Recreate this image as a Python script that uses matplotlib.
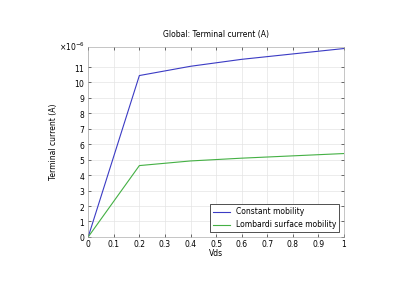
import numpy as np
import matplotlib
matplotlib.use('Agg')
from matplotlib import pyplot as plt
from matplotlib.ticker import ScalarFormatter

vds = [0, 0.2, 0.4, 0.6, 0.8, 1.0]
i_const = [0, 10.45e-6, 11.05e-6, 11.5e-6, 11.85e-6, 12.2e-6]
i_lomb = [0, 4.62e-6, 4.92e-6, 5.1e-6, 5.25e-6, 5.4e-6]

plt.rcParams['font.size'] = 5.5
fig = plt.figure(figsize=(4.2, 2.9), dpi=100)
ax = fig.add_axes([0.21, 0.183, 0.609, 0.655])

ax.plot(vds, i_const, color='#3b3bc4', lw=0.8, label='Constant mobility')
ax.plot(vds, i_lomb, color='#44b044', lw=0.8, label='Lombardi surface mobility')

ax.set_xlim(0, 1)
ax.set_ylim(0, 12.3e-6)
ax.set_xticks(np.arange(0, 1.01, 0.1))
ax.set_xticklabels(['0', '0.1', '0.2', '0.3', '0.4', '0.5', '0.6', '0.7', '0.8', '0.9', '1'])
ax.set_yticks(np.arange(0, 12e-6, 1e-6))
fmt = ScalarFormatter(useMathText=True)
fmt.set_powerlimits((-6, -6))
ax.yaxis.set_major_formatter(fmt)
ax.yaxis.get_offset_text().set_visible(False)
ax.text(-0.015, 1.0, r'$\times10^{-6}$', transform=ax.transAxes,
        ha='right', va='center', fontsize=5.5)

ax.grid(True, color='#e4e4e4', lw=0.5)
ax.tick_params(direction='in', length=2, width=0.4, top=True, right=True, pad=2)
for s in ax.spines.values():
    s.set_linewidth(0.4)
    s.set_color('#999999')

ax.set_title('Global: Terminal current (A)', fontsize=5.5, pad=7)
ax.set_xlabel('Vds', labelpad=0)
ax.set_ylabel('Terminal current (A)', labelpad=12)

leg = ax.legend(loc='lower right', fancybox=False, edgecolor='#333333',
                framealpha=1, fontsize=5.5, borderaxespad=0.6, handlelength=2.2)
leg.get_frame().set_linewidth(0.6)

fig.savefig('out.png', dpi=100)
